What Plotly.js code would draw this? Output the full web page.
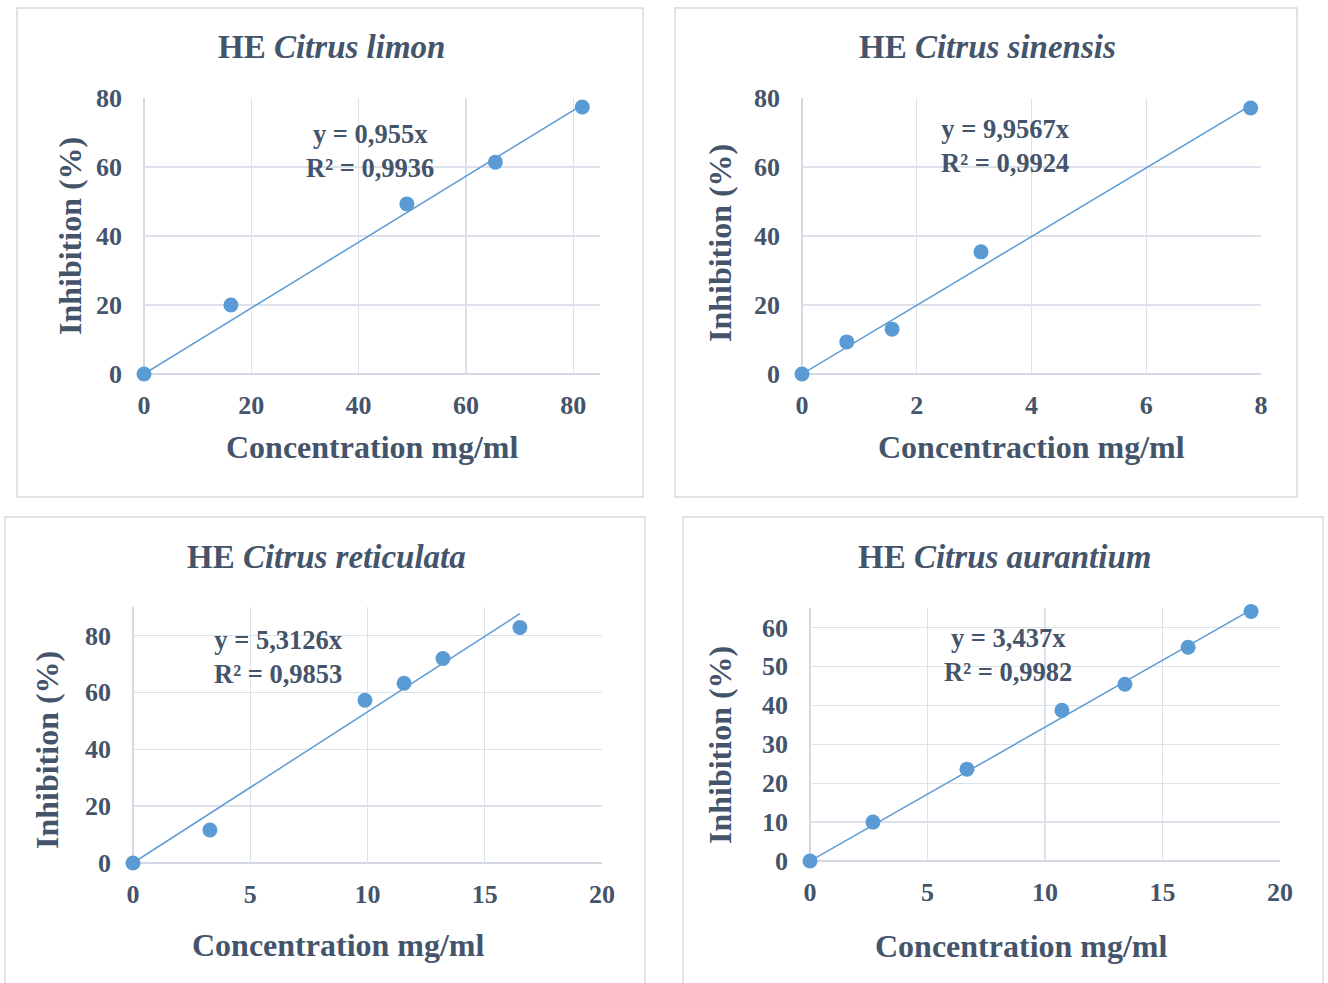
<!DOCTYPE html>
<html>
<head>
<meta charset="utf-8">
<script src="https://cdn.plot.ly/plotly-3.0.1.min.js"></script>
<style>html,body{margin:0;padding:0;background:#fff;}#chart{width:1328px;height:983px;}</style>
</head>
<body>
<div id="chart"></div>
<script>
// ---- Data ----
const panelTitles = ["HE <i>Citrus limon</i>", "HE <i>Citrus sinensis</i>", "HE <i>Citrus reticulata</i>", "HE <i>Citrus aurantium</i>"];
const xTitles = ["Concentration mg/ml", "Concentraction mg/ml", "Concentration mg/ml", "Concentration mg/ml"];
const yTitle = "Inhibition (%)";
const equations = ["y = 0,955x<br>R² = 0,9936", "y = 9,9567x<br>R² = 0,9924", "y = 5,3126x<br>R² = 0,9853", "y = 3,437x<br>R² = 0,9982"];
const slopes = [0.955, 9.9567, 5.3126, 3.437];

const limonX = [0, 16.2, 49.0, 65.5, 81.7];
const limonY = [0, 20.0, 49.3, 61.4, 77.4];
const sinensisX = [0, 0.78, 1.57, 3.12, 7.82];
const sinensisY = [0, 9.3, 13.0, 35.4, 77.1];
const reticulataX = [0, 3.28, 9.89, 11.56, 13.22, 16.5];
const reticulataY = [0, 11.6, 57.2, 63.2, 71.9, 82.8];
const aurantiumX = [0, 2.68, 6.68, 10.72, 13.4, 16.09, 18.77];
const aurantiumY = [0, 10.0, 23.6, 38.7, 45.4, 54.9, 64.1];

const xRanges = [[0, 85], [0, 8], [0, 20], [0, 20]];
const yRanges = [[0, 80], [0, 80], [0, 90], [0, 65]];
const xDticks = [20, 2, 5, 5];
const yDticks = [20, 20, 20, 10];

// ---- Layout geometry (pixels) ----
const W = 1328, H = 983;
const plotBoxes = [ // [x0, x1, y0(top), y1(bottom)]
  [144, 600, 98, 374],
  [802, 1261, 98, 374],
  [133, 602, 607, 863],
  [810, 1280, 608, 861]
];
const frames = [
  [17, 643, 8, 497],
  [675, 1297, 8, 497],
  [5, 645, 517, 990],
  [683, 1323, 517, 990]
];
const titlePos = [[331, 47], [987, 47], [326, 557], [1004, 557]];
const xTitlePos = [[372, 447], [1031, 447], [338, 945], [1021, 946]];
const yTitlePos = [[70, 236], [720, 243], [47, 750], [720, 745]];
const eqPos = [[370, 151], [1005, 146], [278, 657], [1008, 655]];

const TXT = '#44546A';
const FONT = '"Liberation Serif", "Times New Roman", serif';
const BLUE = '#5B9BD5';

const px = v => v / W;
const py = v => 1 - v / H;

const datasets = [[limonX, limonY], [sinensisX, sinensisY], [reticulataX, reticulataY], [aurantiumX, aurantiumY]];

const traces = [];
const layout = {
  width: W, height: H,
  margin: {l: 0, r: 0, t: 0, b: 0},
  paper_bgcolor: '#fff', plot_bgcolor: 'rgba(0,0,0,0)',
  showlegend: false,
  font: {family: FONT, color: TXT},
  annotations: [], shapes: []
};

datasets.forEach((d, i) => {
  const n = i + 1;
  const xa = n === 1 ? 'x' : 'x' + n;
  const ya = n === 1 ? 'y' : 'y' + n;
  const xmax = Math.max(...d[0]);
  // trendline from printed equation over data x-range
  traces.push({
    x: [0, xmax], y: [0, slopes[i] * xmax],
    mode: 'lines', type: 'scatter', xaxis: xa, yaxis: ya,
    line: {color: BLUE, width: 1.5}, hoverinfo: 'skip', cliponaxis: false
  });
  traces.push({
    x: d[0], y: d[1], mode: 'markers', type: 'scatter', xaxis: xa, yaxis: ya,
    marker: {color: BLUE, size: 15, line: {width: 0}}, cliponaxis: false
  });
  const b = plotBoxes[i];
  const axCommon = {
    showgrid: true, gridcolor: '#DDE2EA', gridwidth: 1.3,
    showline: false, zeroline: false, ticks: '', fixedrange: true,
    tickfont: {family: FONT, size: 26, color: TXT, weight: 700}
  };
  layout['xaxis' + (n === 1 ? '' : n)] = Object.assign({}, axCommon, {
    domain: [px(b[0]), px(b[1])], anchor: ya, range: xRanges[i], dtick: xDticks[i], tick0: 0,
    ticklabelstandoff: 13
  });
  layout['yaxis' + (n === 1 ? '' : n)] = Object.assign({}, axCommon, {
    domain: [py(b[3]), py(b[2])], anchor: xa, range: yRanges[i], dtick: yDticks[i], tick0: 0,
    ticklabelstandoff: 21
  });
  // axis lines (left & bottom), slightly darker than grid
  layout.shapes.push({type: 'line', xref: 'paper', yref: 'paper', x0: px(b[0]), x1: px(b[1]), y0: py(b[3]), y1: py(b[3]), line: {color: '#C5CDDA', width: 1.5}, layer: 'below'});
  layout.shapes.push({type: 'line', xref: 'paper', yref: 'paper', x0: px(b[0]), x1: px(b[0]), y0: py(b[3]), y1: py(b[2]), line: {color: '#C5CDDA', width: 1.5}, layer: 'below'});
  // chart frame
  const f = frames[i];
  layout.shapes.push({type: 'rect', xref: 'paper', yref: 'paper', x0: px(f[0]), x1: px(f[1]), y0: py(f[3]), y1: py(f[2]), line: {color: '#D9D9D9', width: 1.5}, layer: 'below'});
  // titles
  const bold = {family: FONT, color: TXT, weight: 700};
  layout.annotations.push({text: panelTitles[i], xref: 'paper', yref: 'paper', x: px(titlePos[i][0]), y: py(titlePos[i][1]), xanchor: 'center', yanchor: 'middle', showarrow: false, font: Object.assign({size: 33}, bold)});
  layout.annotations.push({text: xTitles[i], xref: 'paper', yref: 'paper', x: px(xTitlePos[i][0]), y: py(xTitlePos[i][1]), xanchor: 'center', yanchor: 'middle', showarrow: false, font: Object.assign({size: 32}, bold)});
  layout.annotations.push({text: yTitle, xref: 'paper', yref: 'paper', x: px(yTitlePos[i][0]), y: py(yTitlePos[i][1]), xanchor: 'center', yanchor: 'middle', textangle: -90, showarrow: false, font: Object.assign({size: 32}, bold)});
  layout.annotations.push({text: equations[i], xref: 'paper', yref: 'paper', x: px(eqPos[i][0]), y: py(eqPos[i][1]), xanchor: 'center', yanchor: 'middle', align: 'center', showarrow: false, font: Object.assign({size: 26.5}, bold)});
});

Plotly.newPlot('chart', traces, layout, {displayModeBar: false, staticPlot: true});
</script>
</body>
</html>
